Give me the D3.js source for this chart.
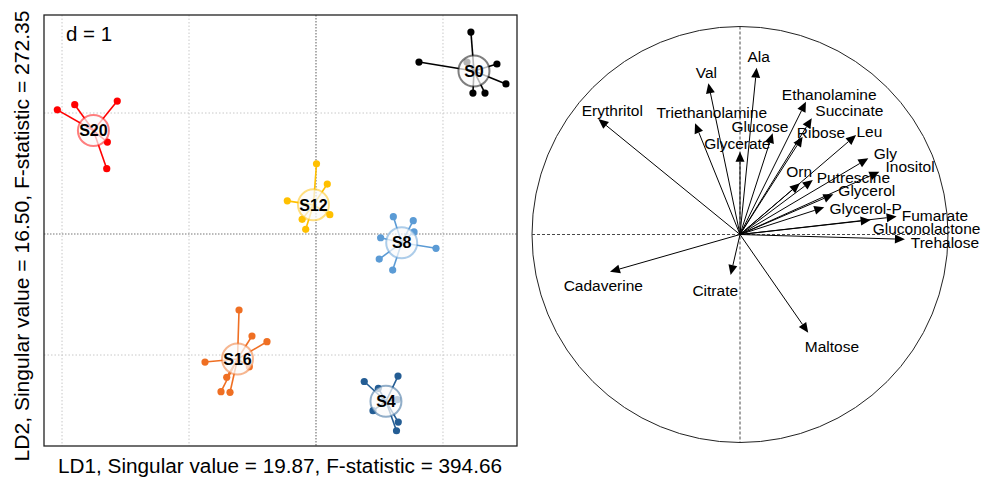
<!DOCTYPE html>
<html>
<head>
<meta charset="utf-8">
<script src="https://cdn.jsdelivr.net/npm/d3@7"></script>
<style>
  html, body { margin: 0; padding: 0; background: #fff; }
  svg { display: block; font-family: "Liberation Sans", Arial, sans-serif; }
</style>
</head>
<body>
<svg id="chart" width="984" height="477"></svg>
<script>
// ---------- DATA ----------
const groups = ["S0", "S20", "S12", "S8", "S16", "S4"];
const groupColors = ["#000000", "#FF0000", "#FFC000", "#5B9BD5", "#EF6F23", "#245D94"];
const groupCenters = [
  [1.244, 1.347], [-1.753, 0.855], [-0.020, 0.241],
  [0.675, -0.072], [-0.618, -1.033], [0.551, -1.383]
];
const groupPoints = [
  [[1.220, 1.669], [0.811, 1.421], [1.425, 1.405], [1.496, 1.240], [1.236, 1.165], [1.331, 1.165], [1.189, 1.421]],
  [[-2.037, 1.026], [-1.900, 1.069], [-1.565, 1.099], [-1.643, 0.760], [-1.648, 0.540]],
  [[0.004, 0.580], [0.089, 0.413], [-0.226, 0.274], [0.109, 0.160], [-0.109, 0.121], [-0.081, 0.039]],
  [[0.609, 0.143], [0.766, 0.110], [0.509, -0.031], [0.772, 0.017], [0.945, -0.118], [0.498, -0.207], [0.604, -0.298]],
  [[-0.606, -0.628], [-0.504, -0.843], [-0.386, -0.890], [-0.874, -1.058], [-0.525, -1.097], [-0.703, -1.184], [-0.748, -1.303], [-0.677, -1.308]],
  [[0.380, -1.219], [0.646, -1.174], [0.449, -1.460], [0.648, -1.554], [0.634, -1.626], [0.640, -1.369], [0.491, -1.275]]
];
const gridX = [-2, -1, 0, 1];
const gridY = [1, 0, -1];
const xLabel = "LD1, Singular value = 19.87, F-statistic = 394.66";
const yLabel = "LD2, Singular value = 16.50, F-statistic = 272.35";
const dLabel = "d = 1";

const variables = ["Erythritol", "Val", "Ala", "Triethanolamine", "Glycerate", "Glucose", "Ethanolamine",
  "Succinate", "Ribose", "Leu", "Gly", "Inositol", "Orn", "Putrescine", "Glycerol", "Glycerol-P",
  "Fumarate", "Gluconolactone", "Trehalose", "Cadaverine", "Citrate", "Maltose"];
const loadX = [-0.681, -0.152, 0.080, -0.216, 0.000, 0.157, 0.317, 0.345, 0.301, 0.558, 0.617, 0.670,
  0.288, 0.350, 0.449, 0.405, 0.753, 0.628, 0.793, -0.625, -0.045, 0.328];
const loadY = [0.555, 0.727, 0.802, 0.535, 0.398, 0.487, 0.638, 0.559, 0.470, 0.478, 0.366, 0.302,
  0.246, 0.262, 0.193, 0.131, 0.086, 0.070, -0.023, -0.179, -0.195, -0.472];
// label offsets (px) from arrow tips
const labelOffsets = [[14, -9], [-2, -10.6], [2, -11], [16.7, -10.6], [-2.7, -8.4], [-12.7, -6.6], [23.3, -7.7],
  [37.6, -7.6], [18.3, -4], [13.3, -4], [17, -5], [30.7, -5], [-0.7, -12.3], [40.6, -2.3], [33.4, -3.6],
  [41.4, 0.7], [38.3, -0.7], [56, 8.3], [40, 3.4], [-6.7, 14], [-15.4, 15], [23.7, 14]];

// ---------- DRAW ----------
const svg = d3.select("#chart");

// ----- Left panel -----
const L = { x0: 44, x1: 517, y0: 15, y1: 446 };
const x = d3.scaleLinear().domain([-2.142, 1.583]).range([L.x0, L.x1]);
const y = d3.scaleLinear().domain([1.810, -1.752]).range([L.y0, L.y1]);

const left = svg.append("g");
left.selectAll("line.gx").data(gridX.filter(v => v !== 0)).join("line")
  .attr("x1", d => x(d)).attr("x2", d => x(d)).attr("y1", L.y0).attr("y2", L.y1)
  .attr("stroke", "#c8c8c8").attr("stroke-width", 1).attr("stroke-dasharray", "1.5,2");
left.selectAll("line.gy").data(gridY.filter(v => v !== 0)).join("line")
  .attr("y1", d => y(d)).attr("y2", d => y(d)).attr("x1", L.x0).attr("x2", L.x1)
  .attr("stroke", "#c8c8c8").attr("stroke-width", 1).attr("stroke-dasharray", "1.5,2");
left.append("line").attr("x1", x(0)).attr("x2", x(0)).attr("y1", L.y0).attr("y2", L.y1)
  .attr("stroke", "#777").attr("stroke-width", 1.2).attr("stroke-dasharray", "1.5,1.5");
left.append("line").attr("y1", y(0)).attr("y2", y(0)).attr("x1", L.x0).attr("x2", L.x1)
  .attr("stroke", "#777").attr("stroke-width", 1.2).attr("stroke-dasharray", "1.5,1.5");

groups.forEach((g, i) => {
  const col = groupColors[i];
  const c = groupCenters[i];
  const gg = left.append("g");
  gg.selectAll("line").data(groupPoints[i]).join("line")
    .attr("x1", x(c[0])).attr("y1", y(c[1]))
    .attr("x2", d => x(d[0])).attr("y2", d => y(d[1]))
    .attr("stroke", col).attr("stroke-width", 1.6);
  gg.selectAll("circle.pt").data(groupPoints[i]).join("circle")
    .attr("class", "pt")
    .attr("cx", d => x(d[0])).attr("cy", d => y(d[1])).attr("r", 3.6)
    .attr("fill", col);
  gg.append("circle").attr("cx", x(c[0])).attr("cy", y(c[1])).attr("r", 15.5)
    .attr("fill", "#fbfbfb").attr("fill-opacity", 0.72)
    .attr("stroke", col).attr("stroke-opacity", 0.5).attr("stroke-width", 2);
  gg.append("text").attr("x", x(c[0])).attr("y", y(c[1]))
    .attr("text-anchor", "middle").attr("dy", "0.36em")
    .attr("font-weight", "bold").attr("font-size", 16).attr("fill", "#000")
    .text(g);
});

left.append("rect").attr("x", L.x0).attr("y", L.y0)
  .attr("width", L.x1 - L.x0).attr("height", L.y1 - L.y0)
  .attr("fill", "none").attr("stroke", "#222").attr("stroke-width", 1.3);

left.append("text").attr("x", 66).attr("y", 41).attr("font-size", 20.5).attr("fill", "#000").text(dLabel);

svg.append("text").attr("x", 280).attr("y", 473).attr("text-anchor", "middle")
  .attr("font-size", 20).attr("fill", "#000")
  .attr("textLength", 444).attr("lengthAdjust", "spacingAndGlyphs").text(xLabel);
svg.append("text").attr("transform", "translate(29,236) rotate(-90)").attr("text-anchor", "middle")
  .attr("font-size", 20).attr("fill", "#000")
  .attr("textLength", 451).attr("lengthAdjust", "spacingAndGlyphs").text(yLabel);

// ----- Right panel -----
const R = { cx: 740, cy: 234.5, r: 208 };
const rx = d3.scaleLinear().domain([-1, 1]).range([R.cx - R.r, R.cx + R.r]);
const ry = d3.scaleLinear().domain([-1, 1]).range([R.cy + R.r, R.cy - R.r]);

const right = svg.append("g");
right.append("circle").attr("cx", rx(0)).attr("cy", ry(0)).attr("r", R.r)
  .attr("fill", "none").attr("stroke", "#222").attr("stroke-width", 1);
right.append("line").attr("x1", rx(-1)).attr("x2", rx(1)).attr("y1", ry(0)).attr("y2", ry(0))
  .attr("stroke", "#333").attr("stroke-width", 0.9).attr("stroke-dasharray", "3,2");
right.append("line").attr("x1", rx(0)).attr("x2", rx(0)).attr("y1", ry(1)).attr("y2", ry(-1))
  .attr("stroke", "#333").attr("stroke-width", 0.9).attr("stroke-dasharray", "3,2");

const vars = variables.map((v, i) => ({ name: v, x: loadX[i], y: loadY[i], off: labelOffsets[i] }));
const headLen = 10, headW = 4.5;
vars.forEach(d => {
  const x0 = rx(0), y0 = ry(0), x1 = rx(d.x), y1 = ry(d.y);
  const ang = Math.atan2(y1 - y0, x1 - x0);
  const bx = x1 - headLen * Math.cos(ang), by = y1 - headLen * Math.sin(ang);
  right.append("line").attr("x1", x0).attr("y1", y0).attr("x2", bx).attr("y2", by)
    .attr("stroke", "#000").attr("stroke-width", 1);
  const px = -Math.sin(ang), py = Math.cos(ang);
  right.append("path")
    .attr("d", `M${x1},${y1}L${bx + headW * px},${by + headW * py}L${bx - headW * px},${by - headW * py}Z`)
    .attr("fill", "#000");
});
right.selectAll("text.lab").data(vars).join("text").attr("class", "lab")
  .attr("x", d => rx(d.x) + d.off[0]).attr("y", d => ry(d.y) + d.off[1])
  .attr("text-anchor", "middle").attr("dy", "0.36em")
  .attr("font-size", 15.5).attr("fill", "#000").text(d => d.name);
</script>
</body>
</html>
